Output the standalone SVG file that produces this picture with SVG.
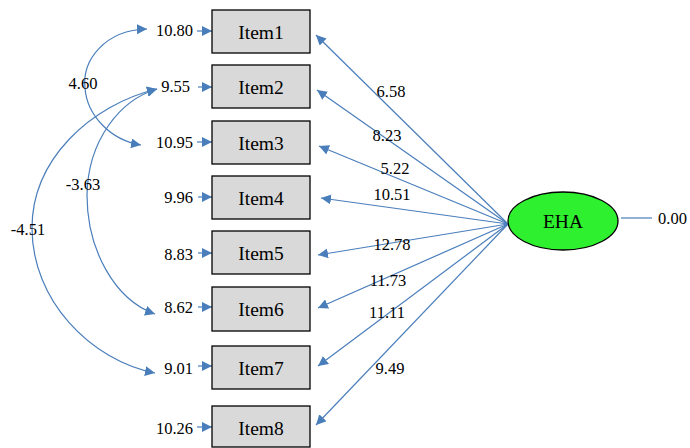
<svg xmlns="http://www.w3.org/2000/svg" width="690" height="448" viewBox="0 0 690 448">
<style>
.box{fill:#d9d9d9;stroke:#000;stroke-width:1.3}
.t{font-family:'Liberation Serif','Times New Roman','DejaVu Serif',serif;font-size:19.5px;fill:#000;text-anchor:middle;dominant-baseline:central}
.n{font-family:'Liberation Serif','Times New Roman','DejaVu Serif',serif;font-size:16.5px;fill:#000;dominant-baseline:central}
.r{text-anchor:end}
.c{text-anchor:middle}
.ln{stroke:#4a7ebb;stroke-width:1.2;fill:none}
.a{marker-end:url(#ah)}
.cv{marker-start:url(#ah);marker-end:url(#ah)}
</style>
<defs>
<marker id="ah" viewBox="0 0 10 10" refX="10" refY="5" markerWidth="10" markerHeight="10" markerUnits="userSpaceOnUse" orient="auto-start-reverse">
<path d="M0,0 L10,5 L0,10 z" fill="#4a7ebb"/>
</marker>
</defs>
<g id="connectors">
<path class="ln a" d="M508,224 L316,35"/>
<path class="ln a" d="M508,224 L317,90"/>
<path class="ln a" d="M508,224 L319,146"/>
<path class="ln a" d="M508,224 L321,198"/>
<path class="ln a" d="M508,224 L318,255"/>
<path class="ln a" d="M508,224 L318,308"/>
<path class="ln a" d="M508,224 L318,366"/>
<path class="ln a" d="M508,224 L316,425"/>
<path class="ln" d="M621,218 L652,218"/>
<path class="ln a" d="M197,31 L212,31"/>
<path class="ln a" d="M198,87 L212,87"/>
<path class="ln a" d="M197,142 L212,142"/>
<path class="ln a" d="M198,197 L212,197"/>
<path class="ln a" d="M198,253 L212,253"/>
<path class="ln a" d="M198,307 L212,307"/>
<path class="ln a" d="M198,366 L212,366"/>
<path class="ln a" d="M197,427 L212,427"/>
<path class="ln cv" d="M147,29 C105,30 82,60 85,88 C87,115 110,140 141,145"/>
<path class="ln cv" d="M157,89 C120,100 88,140 87,195 C87,250 115,300 155,314"/>
<path class="ln cv" d="M157,89 C90,105 32,160 32,228 C32,300 90,360 155,373"/>
<text class="n c" x="83" y="83">4.60</text>
<text class="n c" x="83" y="184">-3.63</text>
<text class="n c" x="28" y="229">-4.51</text>
<text class="n c" x="391" y="91">6.58</text>
<text class="n c" x="387" y="135">8.23</text>
<text class="n c" x="395" y="168">5.22</text>
<text class="n c" x="392" y="194">10.51</text>
<text class="n c" x="392" y="244">12.78</text>
<text class="n c" x="388" y="280">11.73</text>
<text class="n c" x="387" y="312">11.11</text>
<text class="n c" x="390" y="368">9.49</text>
</g>
<g id="e1"><text class="n r" x="193" y="30">10.80</text></g>
<g id="e2"><text class="n r" x="190" y="86">9.55</text></g>
<g id="e3"><text class="n r" x="193" y="142">10.95</text></g>
<g id="e4"><text class="n r" x="193" y="197">9.96</text></g>
<g id="e5"><text class="n r" x="193" y="254">8.83</text></g>
<g id="e6"><text class="n r" x="193" y="307">8.62</text></g>
<g id="e7"><text class="n r" x="193" y="368">9.01</text></g>
<g id="e8"><text class="n r" x="193" y="428">10.26</text></g>
<g id="item1"><rect class="box" x="212" y="10" width="98" height="43"/><text class="t" x="261" y="32">Item1</text></g>
<g id="item2"><rect class="box" x="212" y="65" width="98" height="43"/><text class="t" x="261" y="87">Item2</text></g>
<g id="item3"><rect class="box" x="212" y="121" width="98" height="43"/><text class="t" x="261" y="143">Item3</text></g>
<g id="item4"><rect class="box" x="212" y="176" width="98" height="43"/><text class="t" x="261" y="198">Item4</text></g>
<g id="item5"><rect class="box" x="212" y="231" width="98" height="43"/><text class="t" x="261" y="253">Item5</text></g>
<g id="item6"><rect class="box" x="212" y="287" width="98" height="44"/><text class="t" x="261" y="309">Item6</text></g>
<g id="item7"><rect class="box" x="212" y="346" width="98" height="43"/><text class="t" x="261" y="368">Item7</text></g>
<g id="item8"><rect class="box" x="212" y="406" width="98" height="41"/><text class="t" x="261" y="428">Item8</text></g>
<g id="EHA"><ellipse cx="563" cy="221" rx="55" ry="29" fill="#2ef02e" stroke="#000" stroke-width="1.3"/><text class="t" x="563" y="221">EHA</text></g>
<g id="v0"><text class="n" x="658" y="218">0.00</text></g>
</svg>
